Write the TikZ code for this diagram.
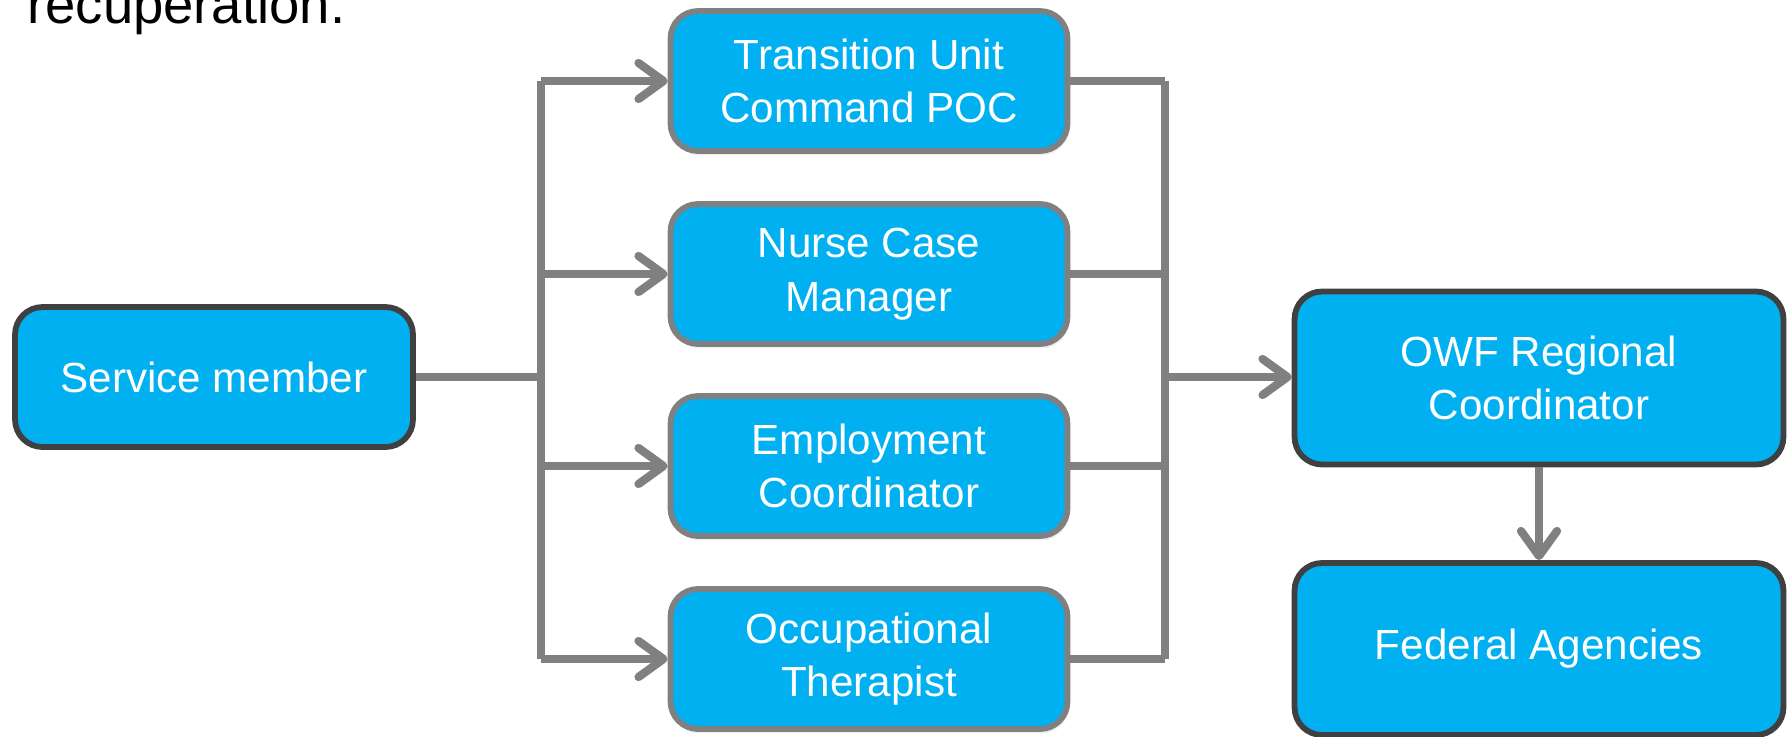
\documentclass[tikz,border=0pt]{standalone}
\usepackage{fontspec}
\setmainfont{Liberation Sans}
\usepackage{xcolor}
\usepackage{tikz}
\usetikzlibrary{arrows.meta,positioning,shadows}

\definecolor{boxblue}{HTML}{00B0F0}
\definecolor{darkedge}{HTML}{404040}
\definecolor{linegray}{HTML}{808080}

\tikzset{
    box/.style={draw=linegray, line width=3.3pt, fill=boxblue, rounded corners=0.55cm,
        text=white, align=center, inner sep=0pt,
        font=\fontsize{24}{30.5}\selectfont,
        minimum width=7.94cm, minimum height=2.8cm},
    midbox/.style={box, drop shadow={shadow xshift=1pt, shadow yshift=-2.5pt, opacity=0.12}},
    keybox/.style={box, draw=darkedge},
    conn/.style={draw=linegray, line width=4.7pt},
    arr/.style={conn, -{Straight Barb[round, length=0.5cm, width=0.72cm]}}
}

\begin{document}
\begin{tikzpicture}[x=0.02cm, y=-0.02cm]

% Page frame (1792 x 737 px)
\useasboundingbox (0,0) rectangle (1792,737);
\clip (0,0) rectangle (1792,737);

% Clipped line of text from above
\node[anchor=base west, inner sep=0pt, font=\fontsize{31}{36}\selectfont] (caption) at (27,23) {recuperation.};

% Service member
\node[keybox, minimum width=7.96cm] (sm) at (214,377) {Service member};

% Middle column
\node[midbox] (tu) at (869,81)  {Transition Unit\\Command POC};
\node[midbox] (nc) at (869,274) {Nurse Case\\Manager};
\node[midbox] (ec) at (869,466) {Employment\\Coordinator};
\node[midbox] (ot) at (869,659) {Occupational\\Therapist};

% Right column
\node[keybox, minimum width=9.78cm, minimum height=3.46cm] (owf) at (1539,378) {OWF Regional\\Coordinator};
\node[keybox, minimum width=9.78cm, minimum height=3.44cm] (fed) at (1539,649) {Federal Agencies};

% Buses
\coordinate (lb) at (541,377);
\coordinate (rb) at (1165,377);

% Fan out from service member
\draw[conn] (sm.east) -- (lb);
\draw[conn] (lb |- tu.west) -- (lb |- ot.west);
\foreach \n in {tu,nc,ec,ot} {
    \draw[arr] (lb |- \n.west) -- (\n.west);
}

% Collect into regional coordinator
\foreach \n in {tu,nc,ec,ot} {
    \draw[conn] (\n.east) -- (rb |- \n.east);
}
\draw[conn] (rb |- tu.east) -- (rb |- ot.east);
\draw[arr] (rb) -- (rb -| owf.west);

% Down to federal agencies
\draw[arr] (owf.south) -- (fed.north);

\end{tikzpicture}
\end{document}
